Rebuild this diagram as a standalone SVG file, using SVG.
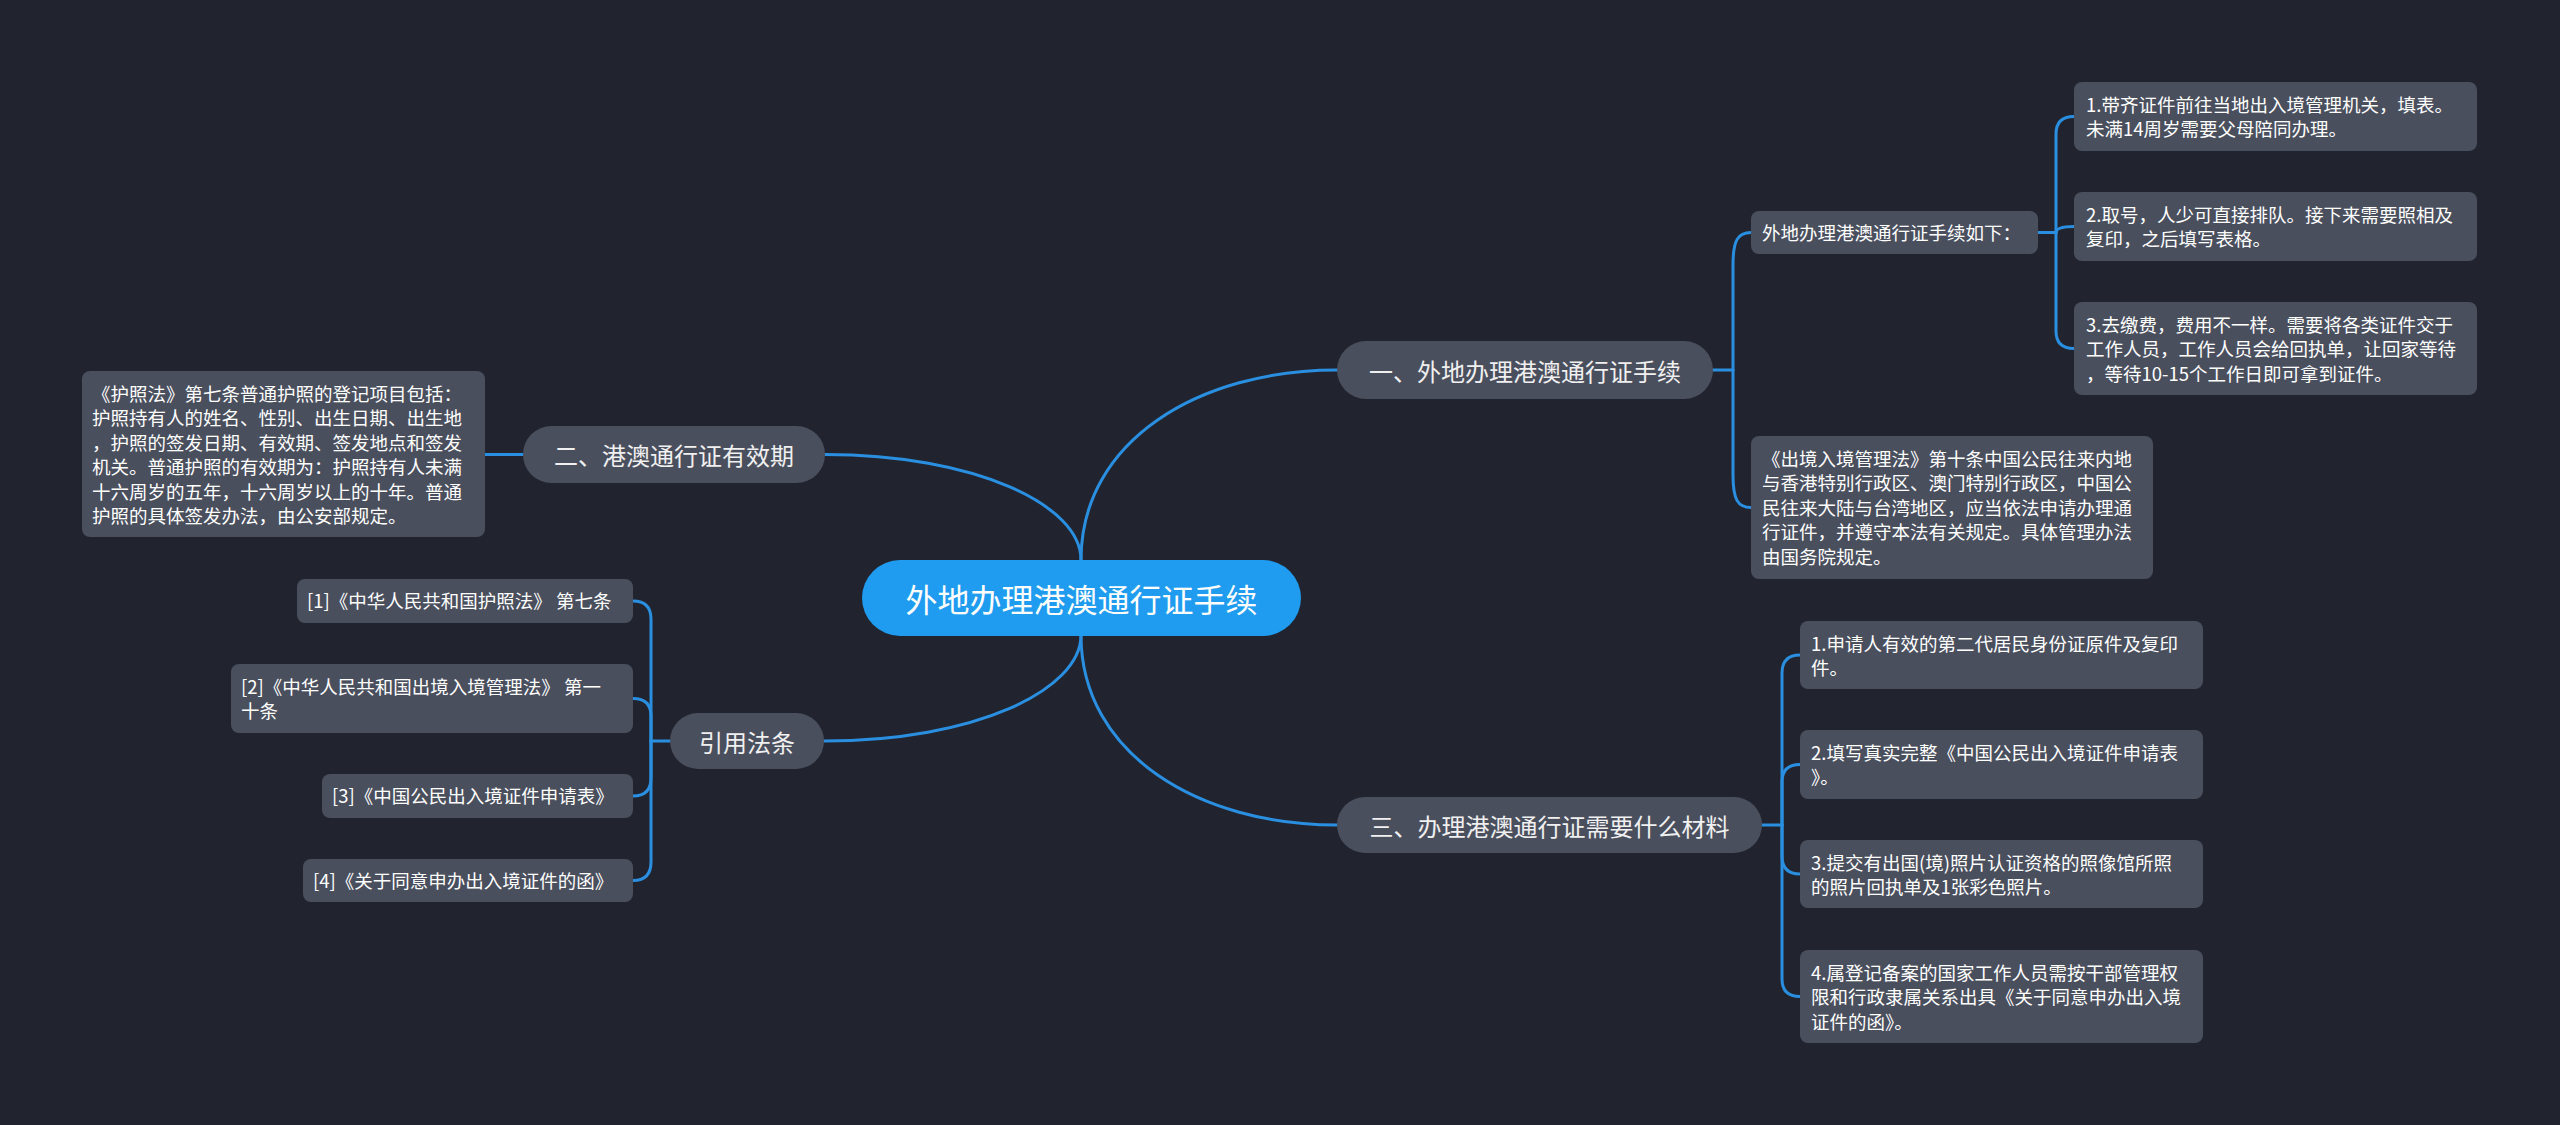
<svg xmlns="http://www.w3.org/2000/svg" width="2560" height="1125" viewBox="0 0 2560 1125">
<style>
.bg{fill:#21242e}
.root{fill:#1f9cf0}
.main{fill:#4a4f5e}
.box{fill:#4a4f5e}
.t{font-family:"Noto Sans CJK SC","Noto Sans",sans-serif;fill:#ffffff}
.c{font-size:32px}
.b{font-size:24px;fill:#f0f0f0}
.s{font-size:18.5px}
.ln{fill:none;stroke:#2a8fe0;stroke-width:3;stroke-linecap:round}
</style>
<rect class="bg" x="0" y="0" width="2560" height="1125"/>
<g id="connectors">
<path class="ln" d="M1081,560 C1081,440 1200,370 1337,370"/>
<path class="ln" d="M1081,560 C1081,505 975,454.5 825,454.5"/>
<path class="ln" d="M1081,635 C1081,690 975,741 824,741"/>
<path class="ln" d="M1081,635 C1081,755 1200,825 1337,825"/>
<path class="ln" d="M1713,370 H1733"/>
<path class="ln" d="M1733,370 V265 C1733,240 1738,232.5 1751,232.5"/>
<path class="ln" d="M1733,370 V475 C1733,500 1738,507.5 1751,507.5"/>
<path class="ln" d="M2038,232.5 H2056"/>
<path class="ln" d="M2056,232.5 V134 Q2056,116.5 2074,116.5"/>
<path class="ln" d="M2056,232.5 Q2056,226.5 2074,226.5"/>
<path class="ln" d="M2056,232.5 V331 Q2056,348.5 2074,348.5"/>
<path class="ln" d="M1762,825 H1782"/>
<path class="ln" d="M1782,825 V673 Q1782,655 1800,655"/>
<path class="ln" d="M1782,825 V782 Q1782,764.5 1800,764.5"/>
<path class="ln" d="M1782,825 V856 Q1782,874 1800,874"/>
<path class="ln" d="M1782,825 V979 Q1782,996.5 1800,996.5"/>
<path class="ln" d="M523,454.5 H485"/>
<path class="ln" d="M670,741 H651"/>
<path class="ln" d="M651,741 V619 Q651,601 633,601"/>
<path class="ln" d="M651,741 V716 Q651,698.5 633,698.5"/>
<path class="ln" d="M651,741 V778 Q651,796 633,796"/>
<path class="ln" d="M651,741 V862 Q651,880.5 633,880.5"/>
</g>
<g id="root">
<rect class="root" x="862" y="560" width="439" height="76" rx="38"/>
<text class="t c" x="1081.5" y="598" text-anchor="middle" dominant-baseline="central">外地办理港澳通行证手续</text>
</g>
<g id="b1">
<rect class="main" x="1337" y="341" width="376" height="58" rx="29"/>
<text class="t b" x="1525" y="370" text-anchor="middle" dominant-baseline="central">一、外地办理港澳通行证手续</text>
</g>
<g id="b2">
<rect class="main" x="523" y="426" width="302" height="57" rx="28.5"/>
<text class="t b" x="674" y="454.5" text-anchor="middle" dominant-baseline="central">二、港澳通行证有效期</text>
</g>
<g id="b3">
<rect class="main" x="1337" y="797" width="425" height="56" rx="28"/>
<text class="t b" x="1549.5" y="825" text-anchor="middle" dominant-baseline="central">三、办理港澳通行证需要什么材料</text>
</g>
<g id="b4">
<rect class="main" x="670" y="713" width="154" height="56" rx="28"/>
<text class="t b" x="747" y="741" text-anchor="middle" dominant-baseline="central">引用法条</text>
</g>
<g id="b1-steps">
<rect class="box" x="1751" y="211" width="287" height="43" rx="8"/>
<text class="t s" x="1762" y="240">外地办理港澳通行证手续如下：</text>
</g>
<g id="b1-step1">
<rect class="box" x="2074" y="82" width="403" height="69" rx="8"/>
<text class="t s" x="2086" y="111.5">1.带齐证件前往当地出入境管理机关，填表。<tspan x="2086" dy="24.5">未满14周岁需要父母陪同办理。</tspan></text>
</g>
<g id="b1-step2">
<rect class="box" x="2074" y="192" width="403" height="69" rx="8"/>
<text class="t s" x="2086" y="221.5">2.取号，人少可直接排队。接下来需要照相及<tspan x="2086" dy="24.5">复印，之后填写表格。</tspan></text>
</g>
<g id="b1-step3">
<rect class="box" x="2074" y="302" width="403" height="93" rx="8"/>
<text class="t s" x="2086" y="331.5">3.去缴费，费用不一样。需要将各类证件交于<tspan x="2086" dy="24.5">工作人员，工作人员会给回执单，让回家等待</tspan><tspan x="2086" dy="24.5">，等待10-15个工作日即可拿到证件。</tspan></text>
</g>
<g id="b1-law">
<rect class="box" x="1751" y="436" width="402" height="143" rx="8"/>
<text class="t s" x="1762" y="465.5">《出境入境管理法》第十条中国公民往来内地<tspan x="1762" dy="24.5">与香港特别行政区、澳门特别行政区，中国公</tspan><tspan x="1762" dy="24.5">民往来大陆与台湾地区，应当依法申请办理通</tspan><tspan x="1762" dy="24.5">行证件，并遵守本法有关规定。具体管理办法</tspan><tspan x="1762" dy="24.5">由国务院规定。</tspan></text>
</g>
<g id="b2-text">
<rect class="box" x="82" y="371" width="403" height="166" rx="8"/>
<text class="t s" x="92" y="400.5">《护照法》第七条普通护照的登记项目包括：<tspan x="92" dy="24.5">护照持有人的姓名、性别、出生日期、出生地</tspan><tspan x="92" dy="24.5">，护照的签发日期、有效期、签发地点和签发</tspan><tspan x="92" dy="24.5">机关。普通护照的有效期为：护照持有人未满</tspan><tspan x="92" dy="24.5">十六周岁的五年，十六周岁以上的十年。普通</tspan><tspan x="92" dy="24.5">护照的具体签发办法，由公安部规定。</tspan></text>
</g>
<g id="b3-item1">
<rect class="box" x="1800" y="621" width="403" height="68" rx="8"/>
<text class="t s" x="1811" y="650.5">1.申请人有效的第二代居民身份证原件及复印<tspan x="1811" dy="24.5">件。</tspan></text>
</g>
<g id="b3-item2">
<rect class="box" x="1800" y="730" width="403" height="69" rx="8"/>
<text class="t s" x="1811" y="759.5">2.填写真实完整《中国公民出入境证件申请表<tspan x="1811" dy="24.5">》。</tspan></text>
</g>
<g id="b3-item3">
<rect class="box" x="1800" y="840" width="403" height="68" rx="8"/>
<text class="t s" x="1811" y="869.5">3.提交有出国(境)照片认证资格的照像馆所照<tspan x="1811" dy="24.5">的照片回执单及1张彩色照片。</tspan></text>
</g>
<g id="b3-item4">
<rect class="box" x="1800" y="950" width="403" height="93" rx="8"/>
<text class="t s" x="1811" y="979.5">4.属登记备案的国家工作人员需按干部管理权<tspan x="1811" dy="24.5">限和行政隶属关系出具《关于同意申办出入境</tspan><tspan x="1811" dy="24.5">证件的函》。</tspan></text>
</g>
<g id="ref1">
<rect class="box" x="297" y="579" width="336" height="44" rx="8"/>
<text class="t s" x="307" y="608">[1]《中华人民共和国护照法》 第七条</text>
</g>
<g id="ref2">
<rect class="box" x="231" y="664" width="402" height="69" rx="8"/>
<text class="t s" x="241" y="693.5">[2]《中华人民共和国出境入境管理法》 第一<tspan x="241" dy="24.5">十条</tspan></text>
</g>
<g id="ref3">
<rect class="box" x="322" y="774" width="311" height="44" rx="8"/>
<text class="t s" x="332" y="803">[3]《中国公民出入境证件申请表》</text>
</g>
<g id="ref4">
<rect class="box" x="303" y="859" width="330" height="43" rx="8"/>
<text class="t s" x="313" y="888">[4]《关于同意申办出入境证件的函》</text>
</g>
</svg>
